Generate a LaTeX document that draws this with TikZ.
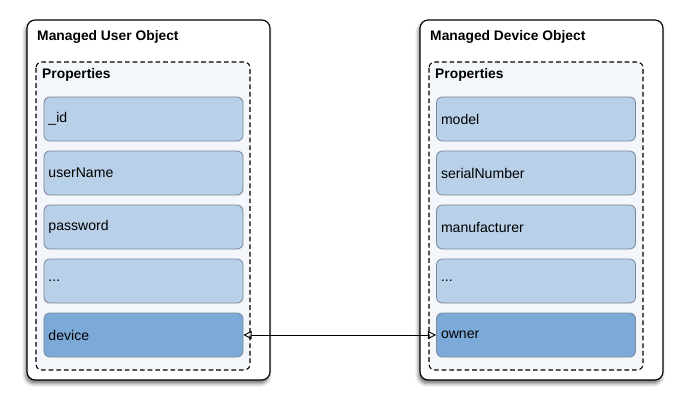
\documentclass[tikz,border=0pt]{standalone}
\usepackage{fontspec}
\setmainfont{Liberation Sans}
\usetikzlibrary{shadows.blur,arrows.meta}
\definecolor{fieldlight}{HTML}{B8D0E8}
\definecolor{fielddark}{HTML}{7BAAD8}
\definecolor{fieldline}{HTML}{7A8796}
\definecolor{propfill}{HTML}{F3F6FA}
\tikzset{
	objbox/.style={draw=black, fill=white, rounded corners=7pt, line width=1pt,
		blur shadow={shadow xshift=-1.2pt, shadow yshift=-3pt, shadow blur radius=3pt, shadow opacity=55}},
	propbox/.style={draw=black, fill=propfill, dash pattern=on 4pt off 2.5pt, rounded corners=5pt, line width=0.9pt},
	field/.style={draw=fieldline, fill=fieldlight, rounded corners=5pt, line width=0.7pt,
		minimum width=5.97cm, minimum height=1.32cm, inner xsep=3.5pt,
		text width=5.7cm, align=left, font=\fontsize{12}{14}\selectfont},
	keyfield/.style={field, fill=fielddark},
	title/.style={anchor=west, font=\bfseries\fontsize{11.8}{14}\selectfont, inner sep=0pt}
}
\begin{document}
\begin{tikzpicture}[x=0.03cm, y=-0.03cm]
		%%%%% FRAME %%%%%
		\useasboundingbox (0, 0) rectangle (700, 412);
		
		%%%%% USER OBJECT %%%%%
		\draw[objbox] (27, 20) rectangle (270, 380);
		\node[title] (usertitle) at (37, 37) {Managed User Object};
		\draw[propbox] (36, 62) rectangle (250, 370);
		\node[title] (userprops) at (42, 75) {Properties};
		\node[field] (userid) at (143.5, 119) {\_id};
		\node[field] (username) at (143.5, 173) {userName};
		\node[field] (password) at (143.5, 227) {password};
		\node[field] (userdots) at (143.5, 281) {...};
		\node[keyfield] (device) at (143.5, 335) {device};
		
		%%%%% DEVICE OBJECT %%%%%
		\draw[objbox] (420, 20) rectangle (663, 380);
		\node[title] (devtitle) at (430, 37) {Managed Device Object};
		\draw[propbox] (429, 62) rectangle (643, 370);
		\node[title] (devprops) at (435, 75) {Properties};
		\node[field] (model) at (536, 119) {model};
		\node[field] (serial) at (536, 173) {serialNumber};
		\node[field] (manufacturer) at (536, 227) {manufacturer};
		\node[field] (devdots) at (536, 281) {...};
		\node[keyfield] (owner) at (536, 335) {owner};
		
		%%%%% RELATION %%%%%
		\draw[line width=0.8pt, {Triangle[open, length=7pt, width=7pt]}-{Triangle[open, length=7pt, width=7pt]}] (device.east) -- (owner.west);
\end{tikzpicture}
\end{document}
